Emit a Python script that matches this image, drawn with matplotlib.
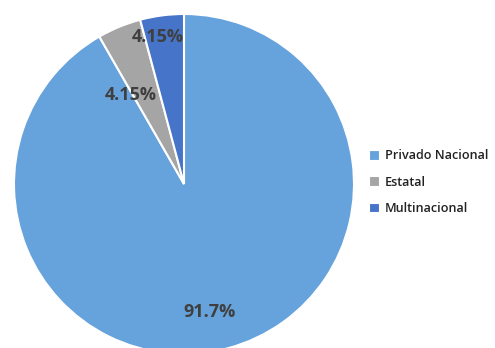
import matplotlib
matplotlib.use("Agg")
import matplotlib.pyplot as plt
import numpy as np

# Share of companies by ownership type
categories = ["Privado Nacional", "Estatal", "Multinacional"]
shares = [91.7, 4.15, 4.15]
share_labels = ["91.7%", "4.15%", "4.15%"]
colors = ["#66A3DC", "#A5A5A5", "#4574C8"]
label_radius = [0.77, 0.61, 0.88]
label_shift_deg = [-3.5, 8.5, 2.5]

W, H = 495, 348
fig = plt.figure(figsize=(W / 100, H / 100), dpi=100)
cx, cy, r = 184, H - 184, 170
ax = fig.add_axes([(cx - r) / W, (cy - r) / H, 2 * r / W, 2 * r / H])

wedges, _ = ax.pie(shares, colors=colors, startangle=90, counterclock=False,
                   radius=1.0, wedgeprops=dict(edgecolor="white", linewidth=1.5))
ax.set_xlim(-1, 1)
ax.set_ylim(-1, 1)
ax.set_aspect("equal")
ax.axis("off")

for w, txt, d, s in zip(wedges, share_labels, label_radius, label_shift_deg):
    ang = np.deg2rad((w.theta1 + w.theta2) / 2 + s)
    ax.text(d * np.cos(ang), d * np.sin(ang), txt, ha="center", va="center",
            fontsize=13, fontweight="bold", color="#3F3F3F", family="Open Sans")

leg = fig.legend(wedges, categories, loc="center left",
                 bbox_to_anchor=(363 / W, (H - 182) / H), frameon=False,
                 prop=dict(family="Open Sans", size=9.1, weight="semibold"),
                 handlelength=0.8, handleheight=0.8, handletextpad=0.45,
                 labelspacing=1.05, borderpad=0)
for h in leg.legend_handles:
    h.set_edgecolor("white")
    h.set_linewidth(0.8)
for t in leg.get_texts():
    t.set_color("#222222")

fig.savefig("out.png", dpi=100)
